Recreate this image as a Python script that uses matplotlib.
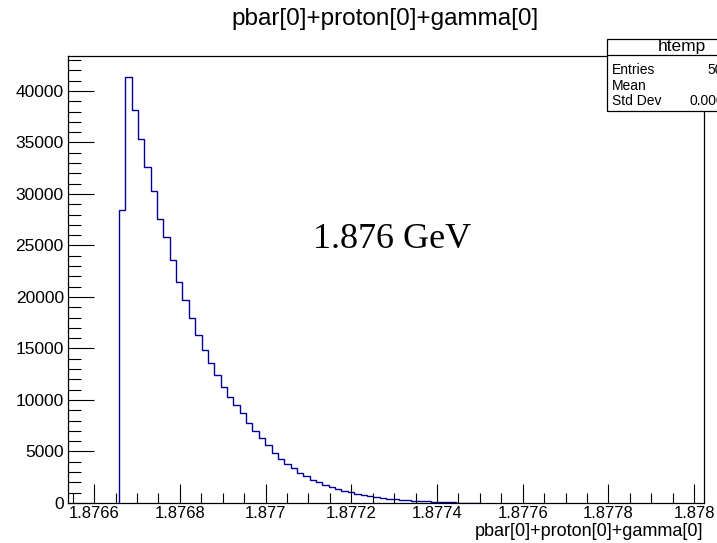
import numpy as np
import matplotlib
matplotlib.use("Agg")
import matplotlib.pyplot as plt
from matplotlib.patches import Rectangle
from matplotlib.ticker import MultipleLocator

plt.rcParams['font.family'] = ['Liberation Sans', 'DejaVu Sans']

# histogram axis (ROOT htemp, 100 bins)
xmin, xmax, nbins = 1.876539, 1.878023, 100
first_bin = 8
# bin contents, starting at first_bin
counts = [28400, 41330, 38150, 35370, 32650, 30280, 27600, 25800, 23550,
          21500, 19700, 18000, 16300, 14900, 13600, 12400, 11300, 10300,
          9500, 8700, 7800, 7000, 6300, 5600,
          4900, 4300, 3800, 3350, 2950, 2600, 2280, 2000, 1750, 1530, 1340,
          1170, 1020, 890, 770, 670, 580, 500, 430, 365, 310, 260, 220, 180,
          150, 122, 98, 78, 60, 46, 34, 24, 16]

xticks = [1.8766, 1.8768, 1.877, 1.8772, 1.8774, 1.8776, 1.8778, 1.878]
xticklabels = ["1.8766", "1.8768", "1.877", "1.8772", "1.8774", "1.8776", "1.8778", "1.878"]
yticks = [0, 5000, 10000, 15000, 20000, 25000, 30000, 35000, 40000]

title = "pbar[0]+proton[0]+gamma[0]"
entries = "500000"
mean = "1.877"
stddev = "0.0001178"

edges = np.linspace(xmin, xmax, nbins + 1)
e = edges[first_bin:first_bin + len(counts) + 1]

fig = plt.figure(figsize=(7.17, 5.43), dpi=100)
ax = fig.add_axes([68/717, 1-503/543, (704-68)/717, (503-56)/543])

ax.stairs(counts, e, baseline=0, color="#000099", lw=1.0)

ax.set_xlim(xmin, xmax)
ax.set_ylim(0, max(counts) * 1.05)
ax.set_xticks(xticks)
ax.set_xticklabels(xticklabels)
ax.set_yticks(yticks)
ax.xaxis.set_minor_locator(MultipleLocator(0.00005))
ax.yaxis.set_minor_locator(MultipleLocator(1000))
ax.tick_params(axis='x', which='major', direction='in', length=14, width=0.8, labelsize=12, pad=2)
ax.tick_params(axis='x', which='minor', direction='in', length=7, width=0.8)
ax.tick_params(axis='y', which='major', direction='in', length=19, width=0.8, labelsize=12.5, pad=3)
ax.tick_params(axis='y', which='minor', direction='in', length=9.5, width=0.8)
for s in ax.spines.values():
    s.set_linewidth(0.9)

# axis title placed under the right end of the axis
fig.text(703/717, 1-531/543, title, ha='right', va='center', fontsize=13)
fig.text(385/717, 1-19/543, title, ha='center', va='center', fontsize=17.5)

fig.text(392/717, 1-240/543, "1.876 GeV", fontsize=26,
         family=['Liberation Serif', 'DejaVu Serif'], ha='center', va='center')

# stats box
bx0, by_top, by_bot, sep = 607/717, 1-39/543, 1-111/543, 1-55/543
fig.add_artist(Rectangle((bx0, by_bot), 0.3, by_top - by_bot, transform=fig.transFigure,
                         facecolor='white', edgecolor='black', lw=0.9, zorder=5))
fig.add_artist(plt.Line2D([bx0, 1.2], [sep, sep], transform=fig.transFigure,
                          color='black', lw=0.9, zorder=6))
fig.text(682/717, (by_top + sep) / 2, "htemp", ha='center', va='center', fontsize=12.5, zorder=7)
rows = [("Entries", entries, 70), ("Mean", mean, 85.5), ("Std Dev", stddev, 101)]
for name, val, yy in rows:
    fig.text(612/717, 1-yy/543, name, ha='left', va='center', fontsize=10, zorder=7)
    fig.text(754/717, 1-yy/543, val, ha='right', va='center', fontsize=10, zorder=7)

fig.savefig("out.png", dpi=100)
